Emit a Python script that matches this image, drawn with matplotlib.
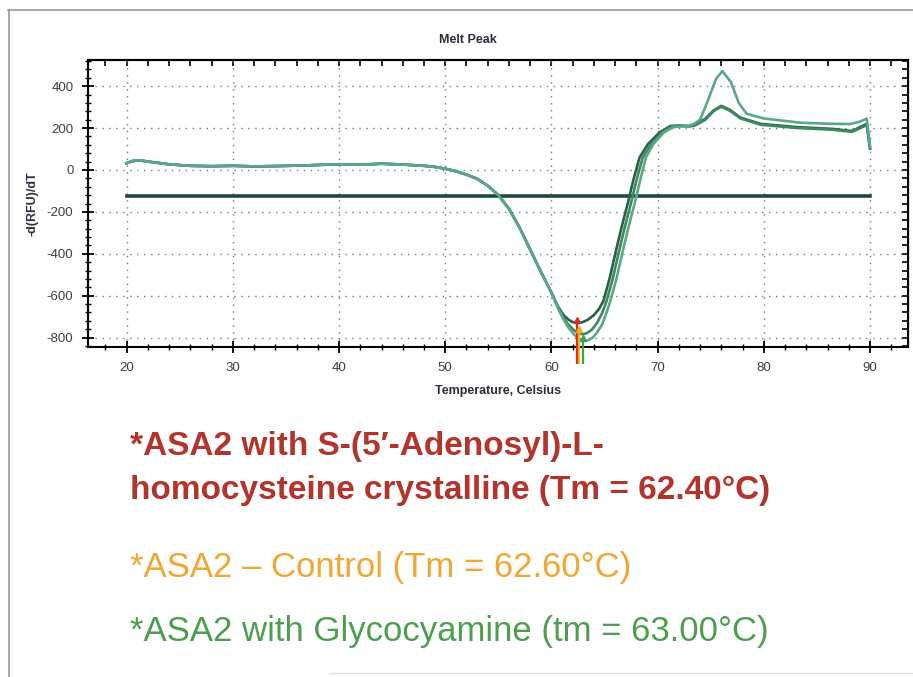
import matplotlib
matplotlib.use("Agg")
import matplotlib.pyplot as plt
from matplotlib.ticker import MultipleLocator

plt.rcParams["axes.unicode_minus"] = False
plt.rcParams["font.family"] = ["Liberation Sans", "DejaVu Sans"]

# melt peak curves (temperature in C, -d(RFU)/dT)
early_t = [20, 20.5, 21, 21.5, 22, 22.8, 24, 26, 28, 30, 32, 34.5, 37, 39.6, 42, 44, 46, 48,
           49, 50, 51, 52, 53, 54, 55, 56, 57, 58, 59, 60]
early_v = [32, 42, 46, 44, 40, 35, 27, 20, 18, 20, 17, 19, 22, 27, 25, 30, 26, 20,
           15, 6, -6, -22, -42, -75, -120, -185, -275, -380, -485, -585]

sah_t = early_t + [60.6, 61.1, 61.6, 62.0, 62.4, 62.9, 63.4, 64, 64.5, 64.9, 65.5, 66, 66.6, 67.25,
                   67.7, 68.3, 69.1, 70.2, 71.2, 72, 73, 73.5, 74.5, 75.3, 76, 76.8, 77.8, 79.7,
                   83, 86.5, 88.3, 89.7, 90]
sah_v = early_v + [-650, -690, -714, -726, -730, -727, -716, -693, -662, -625, -514, -402, -275,
                   -147, -51, 60, 124, 180, 210, 212, 210, 214, 245, 285, 306, 287, 250, 220,
                   205, 196, 186, 220, 102]

ctrl_t = early_t + [60.6, 61.1, 61.6, 62.1, 62.5, 62.9, 63.3, 63.8, 64.3, 64.8, 65.2, 65.8, 66.3,
                    66.9, 67.55, 68, 68.6, 69.4, 70.4, 71.3, 72, 73, 73.5, 74.5, 75.3, 76, 76.8,
                    77.8, 79.7, 83, 86.5, 88.3, 89.7, 90]
ctrl_v = early_v + [-655, -703, -738, -764, -778, -784, -780, -763, -730, -680, -625, -514, -402,
                    -275, -147, -51, 60, 124, 180, 207, 210, 208, 212, 240, 282, 302, 283, 246,
                    216, 201, 192, 182, 214, 105]

gly_t = early_t + [60.6, 61.1, 61.6, 62.1, 62.6, 63.0, 63.4, 63.9, 64.3, 64.8, 65.2, 65.55, 66.15,
                   66.65, 67.25, 67.9, 68.35, 68.9, 69.6, 70.6, 71.5, 72.2, 73, 73.5, 74, 74.7,
                   75.5, 76.1, 76.9, 77.65, 78.4, 80, 83.4, 86, 88.1, 89, 89.7, 90]
gly_v = early_v + [-658, -710, -752, -784, -805, -814, -814, -800, -776, -735, -680, -625, -514,
                   -402, -275, -147, -51, 60, 124, 180, 205, 208, 212, 222, 240, 327, 435, 472,
                   420, 319, 268, 246, 226, 221, 219, 230, 245, 110]

threshold = -123
tm_values = [62.4, 62.6, 63.0]
tm_tops = [-718, -760, -800]
tm_colors = ["#e0281c", "#f2b21c", "#3aa05a"]
curve_colors = ["#2a6048", "#3d8a62", "#5aa888"]

label_lines = ["*ASA2 with S-(5\u2032-Adenosyl)-L-",
               "homocysteine crystalline (Tm = 62.40\u00b0C)",
               "*ASA2 \u2013 Control (Tm = 62.60\u00b0C)",
               "*ASA2 with Glycocyamine (tm = 63.00\u00b0C)"]
label_colors = ["#b3342c", "#b3342c", "#f0a832", "#4e9e52"]
label_bold = [True, True, False, False]

W, H = 913, 677
fig = plt.figure(figsize=(W / 100, H / 100), dpi=100)
ax = fig.add_axes([88 / W, 1 - 347 / H, (908 - 88) / W, (347 - 60) / H])

for t, v, c in zip([sah_t, ctrl_t, gly_t], [sah_v, ctrl_v, gly_v], curve_colors):
    ax.plot(t, v, color=c, lw=1.9, zorder=3)
ax.plot([20, 90], [threshold, threshold], color="#1f4a36", lw=2.6, zorder=2)

for tm, top, c in zip(tm_values, tm_tops, tm_colors):
    ax.vlines(tm, -925, top, color=c, lw=1.6, clip_on=False, zorder=4)
    ax.plot(tm, top, marker="^", ms=5, color=c, clip_on=False, zorder=4)

ax.set_xlim(16.36, 93.58)
ax.set_ylim(-845, 525)
ax.set_xticks(range(20, 91, 10))
ax.set_yticks(range(-800, 401, 200))
ax.xaxis.set_minor_locator(MultipleLocator(2))
ax.yaxis.set_minor_locator(MultipleLocator(40))
ax.tick_params(which="major", direction="inout", length=9, width=1.3,
               labelsize=9.5, labelcolor="#3a3f4a", pad=6)
ax.tick_params(which="minor", direction="inout", length=5, width=1.0)
ax.grid(True, which="major", linestyle=(0, (1, 4)), color="#777777", lw=1)
for s in ax.spines.values():
    s.set_linewidth(1.5)

sec_x = ax.secondary_xaxis("top")
sec_x.set_xticks(range(20, 91, 10))
sec_x.xaxis.set_minor_locator(MultipleLocator(2))
sec_x.tick_params(which="both", direction="in", labeltop=False, length=4, width=1.2)
sec_x.spines["top"].set_linewidth(1.5)
sec_y = ax.secondary_yaxis("right")
sec_y.set_yticks(range(-800, 401, 200))
sec_y.yaxis.set_minor_locator(MultipleLocator(40))
sec_y.tick_params(which="both", direction="in", labelright=False, length=4, width=1.2)

ax.set_xlabel("Temperature, Celsius", fontsize=9, fontweight="bold",
              color="#2a2f3a", labelpad=8)
ax.set_ylabel("-d(RFU)/dT", fontsize=9, fontweight="bold",
              color="#2a2f3a", labelpad=6)
fig.text(468 / W, 1 - 40 / H, "Melt Peak", ha="center", va="center", fontsize=9,
         fontweight="bold", color="#2a2f3a")

# frame around the picture
fig.add_artist(plt.Line2D([8 / W, 1], [1 - 10 / H] * 2, color="#9a9a9a", lw=1.2))
fig.add_artist(plt.Line2D([9 / W] * 2, [0, 1 - 10 / H], color="#9a9a9a", lw=1.2))
fig.add_artist(plt.Line2D([330 / W, 1], [1 - 673 / H] * 2, color="#dddddd", lw=1))

label_y = [447, 490, 568, 631]
for txt, c, b, y in zip(label_lines, label_colors, label_bold, label_y):
    fig.text(130 / W, 1 - y / H, txt, color=c, fontsize=24 if b else 25,
             fontweight="bold" if b else "normal", va="center")

fig.savefig("out.png", dpi=100)
